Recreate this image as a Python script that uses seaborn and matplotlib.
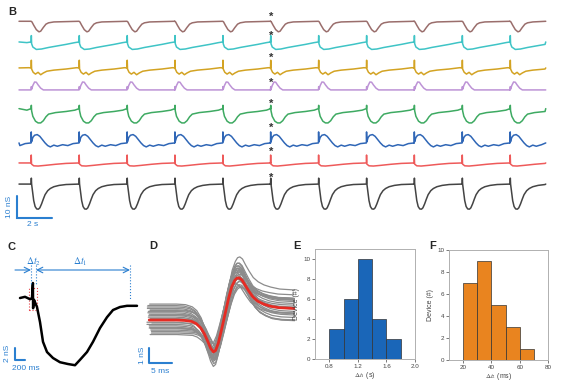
import numpy as np
import matplotlib
matplotlib.use("Agg")
import matplotlib.pyplot as plt
import seaborn as sns
from matplotlib.patches import Rectangle

sns.set_style("white")
plt.rcParams['font.family'] = ['Liberation Sans', 'DejaVu Sans']
plt.rcParams['mathtext.fontset'] = 'stix'

# ---------------- data ----------------
# Panel B: beat onsets (s) and one beat template per trace (s after onset, nS from baseline)
beat_onsets = [0.69, 3.43, 6.17, 8.90, 11.64, 14.37, 17.11, 19.85, 22.58, 25.32, 28.06]
beat_period = 2.74
trace_end = 30.1

brown_t = [0, 0.05, 0.15, 0.3, 0.45, 0.55, 0.7, 0.85, 1.0, 1.3, 2.74]
brown_v = [0.3, 0, -1.5, -3.5, -4.5, -4.2, -2.5, -1.0, -0.4, 0, 0.3]
cyan_t = [0, 0.015, 0.03, 0.1, 0.3, 0.6, 1.0, 1.5, 2.0, 2.5, 2.74]
cyan_v = [0.5, 3.4, -0.3, -1.8, -2.9, -2.7, -2.0, -1.3, -0.6, 0.2, 0.5]
yellow_t = [0, 0.015, 0.03, 0.12, 0.25, 0.4, 0.55, 0.7, 0.9, 1.3, 2.0, 2.6, 2.74]
yellow_v = [0.5, 4.0, 0, -1.5, -2.3, -1.5, -2.6, -1.8, -1.0, -0.5, 0, 0.6, 0.5]
purple_t = [0, 0.015, 0.03, 0.1, 0.2, 0.3, 0.4, 0.55, 0.7, 2.74]
purple_v = [0, 1.5, 0.3, 2.0, 3.6, 3.5, 2.3, 0.8, 0, 0]
green_t = [0, 0.015, 0.03, 0.1, 0.25, 0.4, 0.55, 0.7, 0.85, 1.0, 1.4, 2.0, 2.5, 2.74]
green_v = [1.5, 3.0, 0.5, -2.0, -4.2, -5.0, -5.0, -4.0, -2.2, -1.0, -0.3, 0.2, 0.8, 1.5]
blue_t = [0, 0.01, 0.025, 0.1, 0.2, 0.35, 0.5, 0.65, 0.8, 0.95, 1.1, 1.3, 1.5, 1.8, 2.1, 2.4, 2.74]
blue_v = [0, 5.0, 0.5, 2.5, 3.5, 3.8, 3.0, 1.5, 0, -1.2, -1.8, -1.0, -1.5, -0.8, -1.2, -0.3, 0]
red_t = [0, 0.01, 0.025, 0.15, 0.4, 0.8, 1.4, 2.0, 2.74]
red_v = [0, 3.6, -0.5, -1.3, -1.4, -1.1, -0.6, -0.2, 0]
black_t = [0, 0.015, 0.03, 0.08, 0.15, 0.23, 0.32, 0.42, 0.5, 0.6, 0.7, 0.8, 0.95, 1.1, 1.3, 1.6, 2.0, 2.74]
black_v = [0, 2.7, 0, -3, -7.5, -10.2, -11.3, -11.4, -10.8, -9.0, -6.8, -4.8, -3.0, -2.0, -1.2, -0.6, -0.2, 0]

trace_colors = ['#9a6e6c', '#3fc4c6', '#d3a323', '#bd93d6', '#3eaa62', '#2f66b6', '#ee5a5a', '#444444']
trace_baselines = [92.3, 82.7, 70.9, 61.4, 51.4, 37.3, 28.2, 18.6]
star_heights = [94.7, 86.1, 76.1, 64.7, 55.2, 44.3, 33.3, 21.5]
star_time = 14.4

# Panel C: single beat (ms, nS)
c_t = [0, 100, 200, 240, 258, 262, 280, 300, 340, 400, 460, 540, 660, 800, 960, 1100,
       1200, 1340, 1460, 1600, 1740, 1860, 2000, 2140, 2340]
c_v = [0, 0.2, -0.2, 0, 2.5, -1.7, -0.3, -0.7, -1.5, -4, -7.3, -9, -10, -10.7, -11, -11.2,
       -10.3, -9, -7.3, -5, -3.2, -2, -1.5, -1.3, -1.3]

# Panel D: mean spike (ms, nS), spread profile and per-trace amplitude / offset / shift
d_t = [0, 3, 6, 8, 9.5, 10.5, 11.5, 12.3, 13.1, 13.7, 14.3, 14.8, 15.4, 16.1, 16.9, 17.7,
       18.4, 19.1, 19.6, 20.1, 20.7, 21.4, 22.2, 23.1, 24.2, 25.5, 27, 29, 32.5]
d_v = [0, 0, 0, -0.03, -0.1, -0.25, -0.55, -0.95, -1.5, -1.95, -2.2, -2.1, -1.6, -0.7, 0.4, 1.5,
       2.3, 2.75, 2.9, 2.9, 2.75, 2.4, 2.0, 1.6, 1.3, 1.1, 0.95, 0.85, 0.8]
d_spread = [1, 1, 1, 1, 0.95, 0.9, 0.8, 0.6, 0.4, 0.3, 0.3, 0.3, 0.3, 0.3, 0.3, 0.3,
            0.3, 0.3, 0.35, 0.4, 0.45, 0.5, 0.6, 0.7, 0.8, 0.85, 0.9, 0.9, 0.9]
d_amps = [0.85, 1.1, 1.3, 0.95, 1.2, 1.05, 0.9, 1.35, 1.0, 1.15, 0.8, 1.25, 1.1,
          0.95, 1.4, 1.0, 1.2, 0.9, 1.05, 1.3, 0.88, 1.15, 1.0, 1.22, 0.97]
d_offs = [0.9, -0.6, 0.4, -0.9, 0.2, 0.7, -0.3, 1.1, -0.7, 0.5, -0.2, 0.3, -1.0,
          0.8, -0.4, 0.1, 0.6, -0.8, 1.0, -0.5, 0.35, -0.15, 0.65, -0.55, 0.05]
d_shifts = [-0.4, 0.3, 0.0, 0.5, -0.2, 0.2, -0.5, 0.1, 0.4, -0.3, 0.6, -0.1, 0.2,
            -0.4, 0.0, 0.3, -0.2, 0.5, -0.3, 0.1, 0.4, -0.5, 0.2, 0.0, -0.1]

# Panels E, F: histograms
e_edges = [0.8, 1.0, 1.2, 1.4, 1.6, 1.8]
e_counts = [3, 6, 10, 4, 2]
f_edges = [20, 30, 40, 50, 60, 70]
f_counts = [7, 9, 5, 3, 1]

# ---------------- figure ----------------
W, H = 567, 382
fig = plt.figure(figsize=(W / 100, H / 100), dpi=100)
BLUE = '#2a7fd0'


def px_axes(l, t, r, b):
    return fig.add_axes([l / W, 1 - b / H, (r - l) / W, (b - t) / H])


def tile(tt, vv, base):
    # repeat the beat template at every onset, trace runs from 0 to trace_end
    xs, ys = [0], [base + vv[-1]]
    for on in [beat_onsets[0] - beat_period] + beat_onsets:
        for a, v in zip(tt, vv):
            if 0 < on + a < trace_end:
                xs.append(on + a)
                ys.append(base + v)
    xs.append(trace_end)
    ys.append(base + vv[-1])
    return xs, ys


# Panel B
axB = px_axes(15, 5, 550, 225)
templates = [(brown_t, brown_v), (cyan_t, cyan_v), (yellow_t, yellow_v), (purple_t, purple_v),
             (green_t, green_v), (blue_t, blue_v), (red_t, red_v), (black_t, black_v)]
for (tt, vv), col, base, sh in zip(templates, trace_colors, trace_baselines, star_heights):
    xs, ys = tile(tt, vv, base)
    axB.plot(xs, ys, color=col, lw=1.1)
    axB.text(star_time, sh, '*', ha='center', va='center', fontsize=8, color='#333333',
             fontweight='bold')
axB.set_xlim(-0.229, 30.343)
axB.set_ylim(0, 100)
axB.axis('off')
axB.plot([-0.114, -0.114, 1.886], [13.18, 3.18, 3.18], color=BLUE, lw=1.5, clip_on=False,
         solid_joinstyle='miter')
axB.text(-0.57, 8.2, '10 nS', rotation=90, ha='center', va='center', fontsize=6, color=BLUE)
axB.text(0.8, 0.45, '2 s', ha='center', va='center', fontsize=6, color=BLUE)

# Panel C
axC = px_axes(5, 240, 140, 375)
axC.plot(c_t, c_v, color='black', lw=1.8)
axC.set_xlim(-300, 2400)
axC.set_ylim(-12.83, 9.67)
axC.axis('off')
axC.add_patch(Rectangle((180, -2.0), 150, 3.67, fill=False, ls=':', lw=0.8, ec='#e8454a'))
for xv, y0 in [(220, 2.2), (320, 2.2), (2200, -0.3)]:
    axC.plot([xv, xv], [5.5, y0], ls=':', lw=0.8, color=BLUE)
axC.annotate('', xy=(220, 4.67), xytext=(-100, 4.67),
             arrowprops=dict(arrowstyle='->', color=BLUE, lw=0.8, shrinkA=0, shrinkB=0))
axC.annotate('', xy=(2200, 4.67), xytext=(320, 4.67),
             arrowprops=dict(arrowstyle='<->', color=BLUE, lw=0.8, shrinkA=0, shrinkB=0))
axC.text(260, 6.0, r'$\Delta t_2$', ha='center', va='center', fontsize=7, color=BLUE)
axC.text(1200, 6.0, r'$\Delta t_1$', ha='center', va='center', fontsize=7, color=BLUE)
axC.plot([-100, -100, 100], [-8.33, -10.33, -10.33], color=BLUE, lw=1.5, clip_on=False)
axC.text(-260, -9.2, '2 nS', rotation=90, ha='center', va='center', fontsize=6, color=BLUE)
axC.text(120, -11.8, '200 ms', ha='center', va='center', fontsize=6, color=BLUE)

# Panel D
axD = px_axes(140, 240, 295, 375)
mean_t = np.array(d_t)
mean_v = np.array(d_v)
spread = np.array(d_spread)
for a, o, s in zip(d_amps, d_offs, d_shifts):
    axD.plot(mean_t + s, a * mean_v + o * spread, color='#8c8c8c', lw=0.9)
axD.plot(mean_t, mean_v, color='#e62b23', lw=2.0)
axD.set_xlim(-2.05, 32.5)
axD.set_ylim(-3.79, 5.52)
axD.axis('off')
axD.plot([0, 0, 5], [-1.93, -2.97, -2.97], color=BLUE, lw=1.5, clip_on=False)
axD.text(-1.6, -2.4, '1 nS', rotation=90, ha='center', va='center', fontsize=6, color=BLUE)
axD.text(2.5, -3.55, '5 ms', ha='center', va='center', fontsize=6, color=BLUE)


def hist_panel(ax, edges, counts, color, xlim, ylim, xticks, xlabels, xlabel):
    centers = [(edges[i] + edges[i + 1]) / 2 for i in range(len(counts))]
    sns.histplot(x=centers, weights=counts, bins=edges, color=color, alpha=1,
                 edgecolor='#333333', linewidth=0.5, ax=ax)
    ax.set_xlim(*xlim)
    ax.set_ylim(*ylim)
    ax.set_xticks(xticks)
    ax.set_xticklabels(xlabels)
    ax.set_yticks([0, 2, 4, 6, 8, 10])
    ax.tick_params(labelsize=4.5, length=2, width=0.5, pad=1.5, colors='#444444',
                   direction='out', bottom=True, left=True)
    for sp in ax.spines.values():
        sp.set_color('#b0b0b0')
        sp.set_linewidth(0.7)
    ax.set_xlabel(xlabel, fontsize=5, labelpad=1, color='#444444')
    ax.set_ylabel('Device (#)', fontsize=5, labelpad=2, color='#444444')


axE = px_axes(315, 249, 415, 359)
hist_panel(axE, e_edges, e_counts, '#1a66b8', (0.6, 2.0), (0, 11),
           [0.8, 1.2, 1.6, 2.0], ['0.8', '1.2', '1.6', '2.0'], r'$\Delta t_1$ (s)')
axF = px_axes(449, 250, 548, 360)
hist_panel(axF, f_edges, f_counts, '#e9841f', (10, 80), (0, 10),
           [20, 40, 60, 80], ['20', '40', '60', '80'], r'$\Delta t_2$ (ms)')

# Panel letters
for lab, x, y in [('B', 12, 12), ('C', 12, 247), ('D', 153, 246), ('E', 297, 246), ('F', 433, 246)]:
    fig.text(x / W, 1 - y / H, lab, ha='center', va='center', fontsize=8, fontweight='bold')

fig.savefig('out.png', dpi=100)
